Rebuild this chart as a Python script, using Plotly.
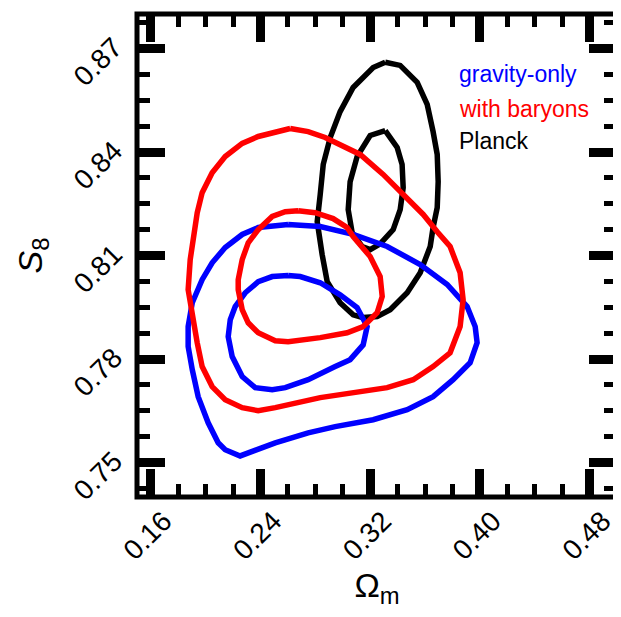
import plotly.graph_objects as go

# ---- data (Omega_m, S8) ----
planck_outer_om = [0.3310, 0.3419, 0.3543, 0.3616, 0.3659, 0.3689, 0.3696, 0.3689, 0.3659, 0.3638,
                   0.3565, 0.3470, 0.3346, 0.3251, 0.3149, 0.3076, 0.2981, 0.2887, 0.2850, 0.2814,
                   0.2836, 0.2858, 0.2909, 0.2981, 0.3076, 0.3222]
planck_outer_s8 = [0.8660, 0.8651, 0.8602, 0.8538, 0.8459, 0.8393, 0.8314, 0.8239, 0.8181, 0.8126,
                   0.8050, 0.7992, 0.7943, 0.7923, 0.7920, 0.7928, 0.7963, 0.8024, 0.8103, 0.8198,
                   0.8277, 0.8364, 0.8442, 0.8517, 0.8587, 0.8645]

planck_inner_om = [0.3310, 0.3397, 0.3433, 0.3441, 0.3419, 0.3368, 0.3273, 0.3200, 0.3142, 0.3069,
                   0.3040, 0.3054, 0.3105, 0.3200]
planck_inner_s8 = [0.8462, 0.8413, 0.8364, 0.8297, 0.8233, 0.8175, 0.8134, 0.8117, 0.8126, 0.8166,
                   0.8233, 0.8314, 0.8387, 0.8448]

grav_outer_om = [0.2602, 0.2836, 0.3076, 0.3324, 0.3565, 0.3762, 0.3907, 0.3966, 0.3980, 0.3929,
                 0.3805, 0.3659, 0.3470, 0.3222, 0.2945, 0.2748, 0.2508, 0.2362, 0.2252, 0.2143,
                 0.2092, 0.2019, 0.1946, 0.1903, 0.1873, 0.1873, 0.1903, 0.1975, 0.2048, 0.2143,
                 0.2267, 0.2384, 0.2508]
grav_outer_s8 = [0.8190, 0.8184, 0.8161, 0.8126, 0.8074, 0.8016, 0.7952, 0.7894, 0.7847, 0.7789,
                 0.7740, 0.7691, 0.7653, 0.7624, 0.7604, 0.7586, 0.7557, 0.7537, 0.7519, 0.7537,
                 0.7557, 0.7615, 0.7691, 0.7769, 0.7836, 0.7894, 0.7963, 0.8030, 0.8079, 0.8123,
                 0.8161, 0.8181, 0.8187]

grav_inner_om = [0.2602, 0.2690, 0.2836, 0.2981, 0.3105, 0.3178, 0.3149, 0.3054, 0.2945, 0.2836,
                 0.2748, 0.2581, 0.2486, 0.2362, 0.2267, 0.2194, 0.2165, 0.2180, 0.2216, 0.2289,
                 0.2384, 0.2486]
grav_inner_s8 = [0.8042, 0.8039, 0.8021, 0.7986, 0.7949, 0.7894, 0.7841, 0.7798, 0.7778, 0.7757,
                 0.7740, 0.7717, 0.7711, 0.7717, 0.7749, 0.7807, 0.7865, 0.7914, 0.7952, 0.7992,
                 0.8024, 0.8039]

bary_outer_om = [0.2617, 0.2748, 0.2872, 0.3127, 0.3295, 0.3441, 0.3587, 0.3689, 0.3783, 0.3856,
                 0.3878, 0.3856, 0.3783, 0.3659, 0.3514, 0.3324, 0.3076, 0.2836, 0.2508, 0.2384,
                 0.2267, 0.2143, 0.2048, 0.1975, 0.1939, 0.1903, 0.1873, 0.1888, 0.1910, 0.1939,
                 0.1975, 0.2048, 0.2143, 0.2267, 0.2384, 0.2508]
bary_outer_s8 = [0.8468, 0.8459, 0.8442, 0.8393, 0.8335, 0.8277, 0.8219, 0.8169, 0.8126, 0.8050,
                 0.7972, 0.7894, 0.7818, 0.7778, 0.7740, 0.7717, 0.7702, 0.7688, 0.7659, 0.7650,
                 0.7659, 0.7682, 0.7720, 0.7778, 0.7847, 0.7923, 0.8001, 0.8088, 0.8155, 0.8224,
                 0.8282, 0.8340, 0.8387, 0.8425, 0.8445, 0.8459]

bary_inner_om = [0.2675, 0.2799, 0.2930, 0.3032, 0.3076, 0.3200, 0.3273, 0.3288, 0.3251, 0.3149,
                 0.3032, 0.2836, 0.2602, 0.2508, 0.2384, 0.2311, 0.2267, 0.2238, 0.2238, 0.2267,
                 0.2311, 0.2384, 0.2486, 0.2581]
bary_inner_s8 = [0.8230, 0.8224, 0.8207, 0.8181, 0.8155, 0.8097, 0.8039, 0.7981, 0.7934, 0.7894,
                 0.7876, 0.7862, 0.7850, 0.7853, 0.7876, 0.7905, 0.7943, 0.8001, 0.8030, 0.8088,
                 0.8137, 0.8175, 0.8213, 0.8227]

legend_labels = ["gravity-only", "with baryons", "Planck"]
legend_colors = ["#0000ff", "#ff0000", "#000000"]

x_ticks = [0.16, 0.24, 0.32, 0.40, 0.48]
y_ticks = [0.75, 0.78, 0.81, 0.84, 0.87]
x_range = [0.15, 0.50]
y_range = [0.74, 0.88]
x_minor_step = 0.02
y_minor_step = 0.0075

FONT = "Liberation Sans, Arial, Helvetica, sans-serif"

contours = [
    (planck_outer_om, planck_outer_s8, "#000000"),
    (planck_inner_om, planck_inner_s8, "#000000"),
    (grav_outer_om, grav_outer_s8, "#0000ff"),
    (grav_inner_om, grav_inner_s8, "#0000ff"),
    (bary_outer_om, bary_outer_s8, "#ff0000"),
    (bary_inner_om, bary_inner_s8, "#ff0000"),
]

fig = go.Figure()
for om, s8, col in contours:
    fig.add_trace(go.Scatter(
        x=om + [om[0]], y=s8 + [s8[0]], mode="lines",
        line=dict(color=col, width=5.5), showlegend=False, hoverinfo="skip"))

# empty trace to activate the overlay axes that carry the minor ticks
fig.add_trace(go.Scatter(x=[], y=[], xaxis="x2", yaxis="y2", showlegend=False, hoverinfo="skip"))

axis_common = dict(
    ticks="inside", ticklen=28, tickwidth=9, tickcolor="black",
    mirror="ticks", showline=False, showgrid=False, zeroline=False,
    automargin=False, tickangle=-45,
    tickfont=dict(family=FONT, size=28, color="black"),
)

minor_common = dict(
    ticks="inside", ticklen=13, tickwidth=5, tickcolor="black",
    mirror="ticks", showline=False, showgrid=False, zeroline=False,
    showticklabels=False, automargin=False, tickmode="linear",
)

fig.update_layout(
    xaxis=dict(range=x_range, tickvals=x_ticks, ticktext=[f"{v:.2f}" for v in x_ticks],
               ticklabelshift=13, ticklabelstandoff=1,
               title=dict(text="Ω<sub>m</sub>", font=dict(family=FONT, size=34, color="black"),
                          standoff=22),
               **axis_common),
    yaxis=dict(range=y_range, tickvals=y_ticks, ticktext=[f"{v:.2f}" for v in y_ticks],
               ticklabelshift=-5, ticklabelstandoff=22,
               title=dict(text="<i>S</i><sub>8</sub>", font=dict(family=FONT, size=34, color="black"),
                          standoff=14),
               **axis_common),
    xaxis2=dict(range=x_range, overlaying="x", anchor="y2", side="bottom",
                tick0=x_ticks[0], dtick=x_minor_step, **minor_common),
    yaxis2=dict(range=y_range, overlaying="y", anchor="x2", side="left",
                tick0=y_ticks[0], dtick=y_minor_step, **minor_common),
)

fig.add_shape(type="rect", xref="paper", yref="paper", x0=0, x1=1, y0=0, y1=1,
              line=dict(color="black", width=5), layer="above")

legend_y = [0.875, 0.8025, 0.738]
for lab, col, yy in zip(legend_labels, legend_colors, legend_y):
    fig.add_annotation(text=lab, xref="paper", yref="paper", x=0.667, y=yy,
                       xanchor="left", yanchor="middle", showarrow=False,
                       font=dict(family=FONT, size=23, color=col))

# the page body adds an 8 px offset, so the figure is sized to land where the reference is
fig.update_layout(
    width=613, height=601,
    margin=dict(l=129, r=4, t=6, b=112, autoexpand=False),
    plot_bgcolor="white", paper_bgcolor="white",
    font=dict(family=FONT, color="black"),
)

fig.write_html("out.html")
